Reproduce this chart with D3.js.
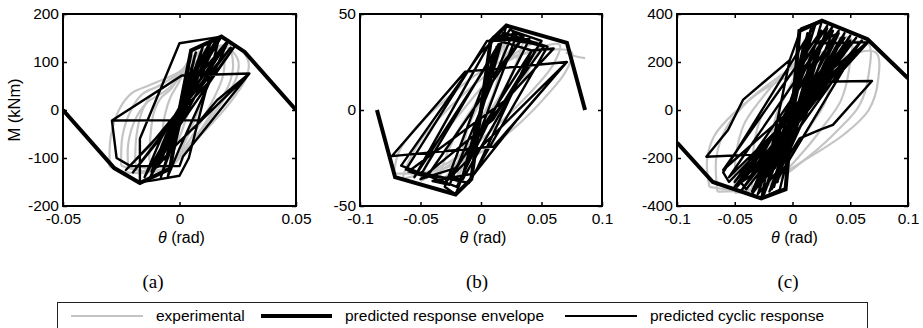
<!DOCTYPE html>
<html>
<head>
<meta charset="utf-8">
<script src="https://cdn.jsdelivr.net/npm/d3@7"></script>
<style>
  body { margin: 0; background: #fff; }
  text { font-family: "Liberation Sans", Arial, sans-serif; }
</style>
</head>
<body>
<div id="chart"></div>
<script>
// ---- data (rotation rad, moment kNm) ----

// panel (a)
var envA = [[-0.05,0],[-0.028,-121],[-0.017,-152],[-0.004,-122],[0,0],[0.005,124],[0.018,153],[0.028,121],[0.05,0]];
var cycA = [[0,0],[0.002,50],[-0.001,-20],[-0.002,-45],[0.001,20],
  [0.004,90],[0.001,20],[-0.004,-80],[-0.001,-20],
  [0.007,120],[0.003,35],[-0.006,-105],[-0.002,-30],
  [0.010,132],[0.005,45],[-0.009,-118],[-0.004,-45],
  [0.013,142],[0.007,55],[-0.012,-128],[-0.006,-55],
  [0.016,150],[0.009,65],[-0.015,-140],[-0.008,-60],
  [0.018,153],[0.0,139],[-0.017,-60],[-0.017,-150],[-0.012,-147],[0.0,-137],[0.004,-100],
  [0.017,150],[0.006,80],[-0.008,-140],[-0.002,-60],
  [0.014,148],[0.005,70],[-0.005,-138],[0.0,-80],
  [0.021,145],[0.010,60],[-0.020,-130],[-0.010,-70],
  [0.020,140],[0.003,40],[-0.013,-145],[-0.004,-60],
  [0.024,135],[0.012,55],[-0.023,-125],[-0.012,-70],
  [0.022,130],[0.008,40],[-0.010,-120],[-0.003,-80],
  [0.030,76],[0.001,72],[-0.029,-22],[-0.027,-100],[-0.021,-117],[0.0,-117],[0.0015,-97],
  [0.030,76],[0.016,20],[0.009,-21],[-0.029,-22]];
var expA = [
  [[-0.008,-95],[-0.0075,-50],[-0.006,-5],[-0.004,25],[0,60],[0.004,100],[0.008,115],[0.0085,85],[0.006,30],[0.002,-30],[-0.002,-80],[-0.005,-100],[-0.008,-95]],
  [[-0.013,-105],[-0.0125,-55],[-0.011,-5],[-0.008,25],[-0.004,42],[0,70],[0.005,108],[0.011,125],[0.0135,100],[0.013,65],[0.009,10],[0.003,-60],[-0.002,-105],[-0.008,-118],[-0.013,-105]],
  [[-0.019,-112],[-0.0185,-55],[-0.016,-2],[-0.012,30],[-0.007,46],[0,75],[0.006,112],[0.015,130],[0.019,105],[0.0185,68],[0.013,8],[0.004,-65],[-0.003,-112],[-0.011,-126],[-0.019,-112]],
  [[-0.022,-120],[-0.022,-70],[-0.019,-20],[-0.014,15],[-0.006,40],[0.003,80],[0.012,120],[0.021,128],[0.023,95],[0.021,50],[0.014,-5],[0.004,-75],[-0.005,-120],[-0.014,-128],[-0.022,-120]],
  [[-0.025,-116],[-0.0245,-55],[-0.021,-2],[-0.016,33],[-0.009,50],[0,78],[0.008,116],[0.019,133],[0.025,106],[0.0245,68],[0.017,7],[0.005,-68],[-0.0035,-116],[-0.013,-129],[-0.025,-116]],
  [[-0.030,-118],[-0.0295,-55],[-0.026,0],[-0.0205,35],[-0.0127,52],[0.0,80],[0.009,118],[0.023,135],[0.0294,104],[0.0288,69],[0.0203,7],[0.0058,-69],[-0.004,-118],[-0.0157,-131],[-0.025,-128],[-0.030,-118]]
];

// panel (b)
var envB = [[-0.086,0],[-0.071,-35],[-0.021,-44],[-0.008,-36],[0,0],[0.008,36],[0.021,44],[0.071,35],[0.086,0]];
var cycB = [[0,0],
  [0.005,15],[-0.004,-12],[0.009,26],[-0.008,-22],[0.013,33],[-0.012,-29],
  [0.018,40],[0.008,20],[-0.016,-36],[-0.006,-15],
  [0.021,44],[0.009,37],[0.03,40],[0.0,-10],[-0.021,-44],[-0.03,-40],[0.0,10],
  [0.035,38],[0.009,37],[0.042,31],[-0.005,-33],[-0.04,-37],[-0.026,-39],[0.027,41],
  [0.05,36],[0.01,-5],[-0.05,-36],[-0.02,-30],[0.042,31],
  [0.06,32],[0.02,5],[-0.06,-32],[-0.045,-35],[0.035,38],
  [0.024,42],[-0.055,-35],[0.01,38],[0.048,34],[-0.015,-36],
  [-0.05,-34],[0.02,40],[0.055,33],[-0.01,-38],
  [-0.062,-31],[0.005,36],[0.04,37],[-0.02,-40],
  [-0.066,-29],[0.0,30],[0.015,39],[0.052,33],[-0.03,-38],
  [0.071,25],[-0.013,20],[-0.0736,-24],[0.0105,-19],[0.071,25],[0.03,-5],[-0.0116,-38]];
var expB = [
  [[-0.02,-38],[-0.017,-25],[-0.01,-8],[0,5],[0.01,20],[0.02,36],[0.017,25],[0.01,8],[0,-5],[-0.01,-20],[-0.02,-38]],
  [[-0.035,-38],[-0.03,-26],[-0.02,-12],[-0.005,3],[0.01,18],[0.025,32],[0.035,38],[0.03,26],[0.02,12],[0.005,-3],[-0.01,-18],[-0.025,-32],[-0.035,-38]],
  [[-0.05,-37],[-0.045,-28],[-0.035,-16],[-0.015,0],[0.005,15],[0.025,28],[0.05,36],[0.045,28],[0.035,16],[0.015,0],[-0.005,-15],[-0.025,-28],[-0.05,-37]],
  [[-0.065,-36],[-0.06,-27],[-0.048,-14],[-0.025,2],[0.0,16],[0.03,28],[0.065,34],[0.06,24],[0.045,12],[0.02,-4],[-0.005,-18],[-0.035,-30],[-0.065,-36]],
  [[-0.072,-33],[-0.068,-22],[-0.055,-10],[-0.03,5],[0.0,20],[0.04,30],[0.075,30],[0.07,20],[0.055,8],[0.03,-8],[0.0,-22],[-0.04,-32],[-0.072,-33]],
  [[0.07,30],[0.078,28],[0.086,27]]
];

// panel (c)
var envC = [[-0.1,-136],[-0.069,-300],[-0.027,-368],[-0.006,-330],[0,0],[0.006,330],[0.0255,372],[0.065,295],[0.1,132]];
var cycC = [[0,0],
  [0.004,120],[-0.003,-100],[0.006,180],[-0.005,-160],[0.008,230],[-0.007,-210],
  [0.010,280],[0.004,150],[-0.010,-260],[-0.004,-130],
  [0.013,320],[0.006,180],[-0.013,-300],[-0.006,-160],
  [0.016,340],[0.008,200],[-0.016,-320],[-0.008,-190],
  [0.0255,372],[0.0076,340],[-0.0024,208],[-0.027,-368],[-0.0111,-333],[-0.0039,-195],
  [0.03,350],[0.01,200],[-0.03,-350],[-0.012,-250],
  [0.035,330],[0.012,180],[-0.035,-340],[-0.015,-240],
  [0.04,320],[0.0206,278],[0.0654,283],[0.02,40],[-0.04,-330],[-0.045,-300],
  [0.045,300],[0.01,60],[-0.05,-320],[-0.02,-220],
  [0.05,290],[0.015,50],[-0.055,-300],[-0.06,-260],
  [0.02,360],[-0.025,-355],[0.03,340],[-0.02,-340],[0.045,320],[-0.03,-320],
  [0.05,310],[-0.045,-340],[0.06,290],[-0.035,-350],[0.04,330],[-0.05,-300],
  [0.055,300],[-0.04,-310],[0.035,350],[-0.055,-280],[0.065,285],[-0.06,-250],
  [0.025,330],[-0.03,-300],[0.042,300],[-0.018,-330],[0.058,280],[-0.048,-320],
  [0.055,250],[0.0206,118],[0.0688,121],[0.035,-62],[0.0235,-83],[0.0062,-118],[-0.0039,-195],
  [-0.008,-180],[-0.0746,-195],[-0.0558,-83],[-0.0429,42],[-0.0227,125],[-0.0024,208],[0.0076,340]];
var expC = [
  [[-0.02,-300],[-0.019,-150],[-0.014,-20],[-0.006,60],[0.005,170],[0.015,260],[0.02,290],[0.019,150],[0.014,30],[0.006,-60],[-0.005,-170],[-0.015,-270],[-0.02,-300]],
  [[-0.035,-330],[-0.034,-170],[-0.028,-40],[-0.015,60],[0.0,160],[0.02,270],[0.035,310],[0.034,160],[0.028,30],[0.015,-70],[0.0,-180],[-0.02,-300],[-0.035,-330]],
  [[-0.05,-345],[-0.049,-190],[-0.042,-60],[-0.028,40],[-0.01,140],[0.02,260],[0.05,300],[0.049,170],[0.042,40],[0.028,-60],[0.01,-170],[-0.02,-310],[-0.05,-345]],
  [[-0.065,-340],[-0.066,-200],[-0.058,-80],[-0.042,20],[-0.02,110],[0.02,230],[0.065,280],[0.066,150],[0.058,20],[0.04,-80],[0.015,-190],[-0.025,-320],[-0.065,-340]],
  [[-0.072,-320],[-0.074,-210],[-0.068,-110],[-0.05,-10],[-0.02,100],[0.03,200],[0.072,240],[0.074,120],[0.066,0],[0.045,-100],[0.01,-210],[-0.035,-330],[-0.072,-320]]
];

// ticks and labels
var xTicksA = [-0.05, 0, 0.05];
var xTicksBC = [-0.1, -0.05, 0, 0.05, 0.1];
var yTicksA = [-200, -100, 0, 100, 200];
var yTicksB = [-50, 0, 50];
var yTicksC = [-400, -200, 0, 200, 400];
var panelNames = ["(a)", "(b)", "(c)"];
var legendLabels = ["experimental", "predicted response envelope", "predicted cyclic response"];

// ---- layout ----
var svgWidth = 923, svgHeight = 328;
var plotTop = 14, plotBottom = 206;

var svg = d3.select("#chart").append("svg")
  .attr("width", svgWidth)
  .attr("height", svgHeight)
  .style("background", "#fff");

var panels = [
  {left: 63, right: 296, xDom: [-0.05, 0.05], yDom: [-200, 200], xTicks: xTicksA, yTicks: yTicksA,
   env: envA, cyc: cycA, exp: expA, name: panelNames[0], nameX: 153, ylabel: true},
  {left: 360, right: 602, xDom: [-0.1, 0.1], yDom: [-50, 50], xTicks: xTicksBC, yTicks: yTicksB,
   env: envB, cyc: cycB, exp: expB, name: panelNames[1], nameX: 477, ylabel: false},
  {left: 677, right: 908, xDom: [-0.1, 0.1], yDom: [-400, 400], xTicks: xTicksBC, yTicks: yTicksC,
   env: envC, cyc: cycC, exp: expC, name: panelNames[2], nameX: 788, ylabel: false}
];

var fmt = function(d) { return String(d); };

panels.forEach(function(p, i) {
  var x = d3.scaleLinear().domain(p.xDom).range([p.left, p.right]);
  var y = d3.scaleLinear().domain(p.yDom).range([plotBottom, plotTop]);

  var clipId = "clip" + i;
  svg.append("clipPath").attr("id", clipId)
    .append("rect")
    .attr("x", p.left).attr("y", plotTop)
    .attr("width", p.right - p.left).attr("height", plotBottom - plotTop);

  var g = svg.append("g").attr("clip-path", "url(#" + clipId + ")");

  var smooth = d3.line().x(d => x(d[0])).y(d => y(d[1])).curve(d3.curveCatmullRom.alpha(0.5));
  var straight = d3.line().x(d => x(d[0])).y(d => y(d[1]));

  // experimental (gray)
  g.selectAll("path.exp").data(p.exp).enter().append("path")
    .attr("class", "exp")
    .attr("d", smooth)
    .attr("fill", "none")
    .attr("stroke", "#c4c4c4")
    .attr("stroke-width", 2.2);

  // predicted cyclic
  g.append("path").datum(p.cyc)
    .attr("d", straight)
    .attr("fill", "none")
    .attr("stroke", "#000")
    .attr("stroke-width", 2.4)
    .attr("stroke-linejoin", "round");

  // envelope
  g.append("path").datum(p.env)
    .attr("d", straight)
    .attr("fill", "none")
    .attr("stroke", "#000")
    .attr("stroke-width", 4)
    .attr("stroke-linejoin", "miter");

  // axes: ticks inside on all four sides
  var tick = 4;
  var bottom = svg.append("g").attr("transform", `translate(0,${plotBottom})`)
    .call(d3.axisBottom(x).tickValues(p.xTicks).tickFormat(fmt).tickSizeInner(-tick).tickSizeOuter(0).tickPadding(7));
  var left = svg.append("g").attr("transform", `translate(${p.left},0)`)
    .call(d3.axisLeft(y).tickValues(p.yTicks).tickFormat(fmt).tickSizeInner(-tick).tickSizeOuter(0).tickPadding(4));
  var top = svg.append("g").attr("transform", `translate(0,${plotTop})`)
    .call(d3.axisTop(x).tickValues(p.xTicks).tickFormat("").tickSizeInner(-tick).tickSizeOuter(0));
  var right = svg.append("g").attr("transform", `translate(${p.right},0)`)
    .call(d3.axisRight(y).tickValues(p.yTicks).tickFormat("").tickSizeInner(-tick).tickSizeOuter(0));

  [bottom, left, top, right].forEach(function(a) {
    a.select(".domain").remove();
    a.selectAll(".tick line").attr("stroke", "#000").attr("stroke-width", 1.5);
    a.selectAll(".tick text")
      .attr("fill", "#000")
      .style("font-family", '"Liberation Sans", Arial, sans-serif')
      .style("font-size", "15.5px");
  });

  svg.append("rect")
    .attr("x", p.left).attr("y", plotTop)
    .attr("width", p.right - p.left).attr("height", plotBottom - plotTop)
    .attr("fill", "none")
    .attr("stroke", "#000")
    .attr("stroke-width", 2);

  // x label
  var xl = svg.append("text")
    .attr("x", (p.left + p.right) / 2 + 2)
    .attr("y", 243)
    .attr("text-anchor", "middle")
    .style("font-size", "16px");
  xl.append("tspan").style("font-style", "italic").text("\u03B8");
  xl.append("tspan").text(" (rad)");

  if (p.ylabel) {
    svg.append("text")
      .attr("transform", `translate(20,${(plotTop + plotBottom) / 2}) rotate(-90)`)
      .attr("text-anchor", "middle")
      .style("font-size", "16.5px")
      .text("M (kNm)");
  }

  // subfigure name
  svg.append("text")
    .attr("x", p.nameX)
    .attr("y", 288)
    .attr("text-anchor", "middle")
    .style("font-family", '"Liberation Serif", "Times New Roman", serif')
    .style("font-size", "19px")
    .text(p.name);
});

// ---- legend ----
var legend = svg.append("g");
legend.append("rect")
  .attr("x", 57.5).attr("y", 302.5)
  .attr("width", 810).attr("height", 30)
  .attr("fill", "none")
  .attr("stroke", "#222")
  .attr("stroke-width", 1);

var legendStyles = [
  {x1: 71, x2: 143, tx: 156, color: "#c4c4c4", w: 2},
  {x1: 261, x2: 332, tx: 345, color: "#000", w: 4},
  {x1: 565, x2: 637, tx: 650, color: "#000", w: 2}
];
legendLabels.forEach(function(lab, i) {
  var s = legendStyles[i];
  legend.append("line")
    .attr("x1", s.x1).attr("x2", s.x2)
    .attr("y1", 316).attr("y2", 316)
    .attr("stroke", s.color)
    .attr("stroke-width", s.w);
  legend.append("text")
    .attr("x", s.tx).attr("y", 321)
    .style("font-size", "15.5px")
    .text(lab);
});
</script>
</body>
</html>
